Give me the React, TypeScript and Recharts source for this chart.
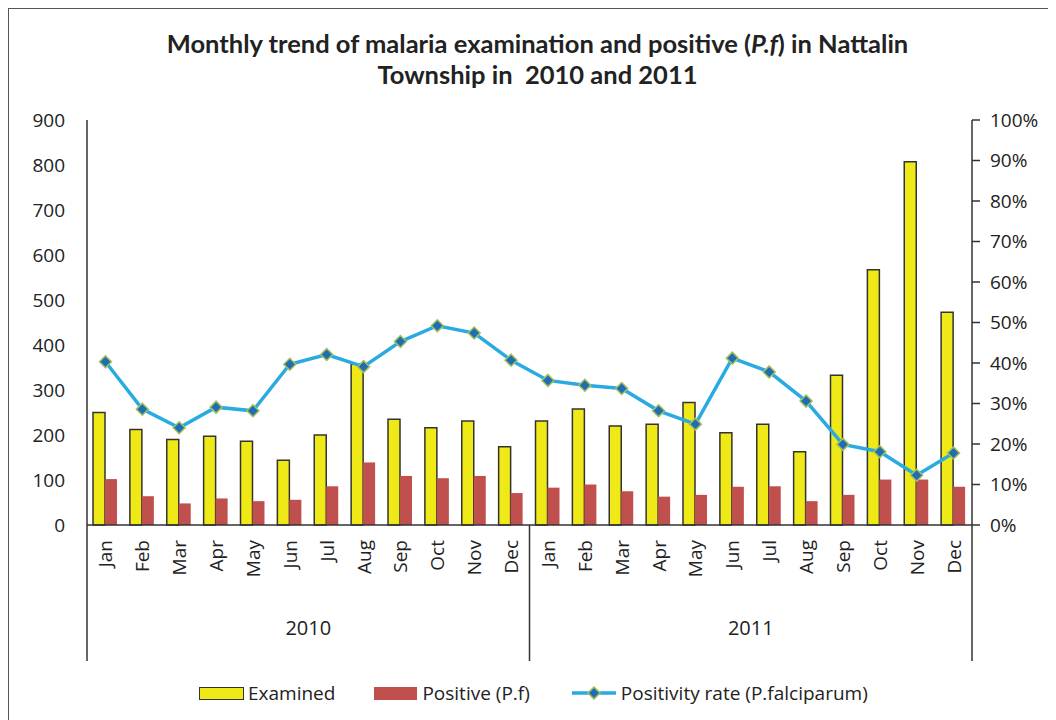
import React from 'react';
import { ComposedChart, Bar, Line, XAxis, YAxis } from 'recharts';

const months = ['Jan', 'Feb', 'Mar', 'Apr', 'May', 'Jun', 'Jul', 'Aug', 'Sep', 'Oct', 'Nov', 'Dec'];
const years = ['2010', '2011'];

const examined2010 = [250, 212, 190, 197, 186, 144, 200, 357, 235, 216, 231, 174];
const examined2011 = [231, 258, 220, 224, 272, 205, 224, 163, 333, 567, 807, 473];
const positive2010 = [102, 64, 48, 59, 53, 56, 86, 139, 109, 104, 109, 71];
const positive2011 = [83, 90, 75, 63, 67, 85, 86, 53, 67, 101, 101, 85];
// positivity rate in %
const rate2010 = [40.3, 28.6, 24.0, 29.1, 28.2, 39.7, 42.1, 39.1, 45.3, 49.2, 47.4, 40.7];
const rate2011 = [35.7, 34.5, 33.7, 28.2, 24.9, 41.2, 37.8, 30.6, 19.9, 18.1, 12.3, 17.8];

const leftTicks = [0, 100, 200, 300, 400, 500, 600, 700, 800, 900];
const rightTicks = [0, 0.1, 0.2, 0.3, 0.4, 0.5, 0.6, 0.7, 0.8, 0.9, 1];

const examinedByYear = [examined2010, examined2011];
const positiveByYear = [positive2010, positive2011];
const rateByYear = [rate2010, rate2011];

const data = years.flatMap((year, yi) =>
  months.map((month, mi) => ({
    key: `${month}-${year}`,
    month,
    year,
    examined: examinedByYear[yi][mi],
    positive: positiveByYear[yi][mi],
    rate: rateByYear[yi][mi] / 100,
  }))
);

const FONT = '"Open Sans", sans-serif';
const TEXT = '#222';
const AXIS = '#333';
const YELLOW = '#F0E918';
const RED = '#C0504D';
const BLUE_LINE = '#29ABE2';
const DIAMOND_FILL = '#1F6DB5';
const DIAMOND_STROKE = '#A3BF5A';

const W = 1047;
const H = 711;
const LEFT_W = 78;
const RIGHT_W = 84;
const PLOT_W = W - LEFT_W - RIGHT_W;
const BAND = PLOT_W / data.length;
const MONTH_AXIS_H = 86;
const YEAR_AXIS_H = 50;

const MonthTick = (props: any) => {
  const { x, y, payload } = props;
  const idx = payload.index;
  const d = data[idx];
  const sepLen = MONTH_AXIS_H + YEAR_AXIS_H;
  const seps: number[] = [];
  if (idx === 0) seps.push(x - BAND / 2);
  if (d && idx < data.length - 1 && data[idx + 1].year !== d.year) seps.push(x + BAND / 2);
  if (idx === data.length - 1) seps.push(x + BAND / 2);
  return (
    <g>
      {seps.map((sx, i) => (
        <line key={i} x1={sx} x2={sx} y1={y} y2={y + sepLen} stroke={AXIS} strokeWidth={1.5} />
      ))}
      <text
        x={x}
        y={y + 15}
        transform={`rotate(-90, ${x}, ${y + 15})`}
        textAnchor="end"
        dominantBaseline="central"
        fill={TEXT}
        fontSize={19}
        fontFamily={FONT}
      >
        {d ? d.month : ''}
      </text>
    </g>
  );
};

const Diamond = (props: any) => {
  const { cx, cy } = props;
  if (cx == null || cy == null) return null;
  const r = 6;
  return (
    <path
      d={`M${cx},${cy - r} L${cx + r},${cy} L${cx},${cy + r} L${cx - r},${cy} Z`}
      fill={DIAMOND_FILL}
      stroke={DIAMOND_STROKE}
      strokeWidth={1.5}
    />
  );
};

const LegendRow = () => (
  <div
    style={{
      position: 'absolute',
      top: 671,
      left: 190,
      display: 'flex',
      alignItems: 'center',
      fontFamily: FONT,
      fontSize: 19,
      color: TEXT,
      whiteSpace: 'nowrap',
    }}
  >
    <span style={{ display: 'inline-block', width: 43, height: 11, background: YELLOW, border: `1.5px solid ${AXIS}`, marginRight: 4 }} />
    <span style={{ marginRight: 39 }}>Examined</span>
    <span style={{ display: 'inline-block', width: 43, height: 13, background: RED, marginRight: 5 }} />
    <span style={{ marginRight: 42 }}>Positive (P.f)</span>
    <svg width={44} height={14} style={{ marginRight: 5 }}>
      <line x1={0} x2={44} y1={7} y2={7} stroke={BLUE_LINE} strokeWidth={3.5} />
      <path d="M22,1 L28,7 L22,13 L16,7 Z" fill={DIAMOND_FILL} stroke={DIAMOND_STROKE} strokeWidth={1.5} />
    </svg>
    <span>Positivity rate (P.falciparum)</span>
  </div>
);

export default function App() {
  return (
    <div
      style={{
        position: 'relative',
        width: W,
        height: H,
        borderLeft: '1px solid #555',
        borderTop: '1px solid #555',
        background: '#fff',
        overflow: 'hidden',
      }}
    >
      <div
        style={{
          position: 'absolute',
          top: 19,
          left: 0,
          width: W + 10,
          textAlign: 'center',
          fontFamily: 'Lato, sans-serif',
          fontWeight: 700,
          fontSize: 25.5,
          lineHeight: '31px',
          color: TEXT,
        }}
      >
        Monthly trend of malaria examination and positive (<i>P.f</i>) in Nattalin
        <br />
        Township in&nbsp; 2010 and 2011
      </div>
      <ComposedChart
        width={W}
        height={H}
        data={data}
        margin={{ top: 111, right: 0, bottom: H - 111 - 405 - MONTH_AXIS_H - YEAR_AXIS_H, left: 0 }}
        barGap={0}
        barSize={12}
      >
        <XAxis
          dataKey="key"
          xAxisId="month"
          height={MONTH_AXIS_H}
          interval={0}
          tickSize={0}
          tickMargin={0}
          tickLine={false}
          axisLine={{ stroke: AXIS, strokeWidth: 1.5 }}
          tick={<MonthTick />}
        />
        <XAxis
          dataKey="year"
          xAxisId="year"
          allowDuplicatedCategory={false}
          height={YEAR_AXIS_H}
          tickSize={0}
          tickMargin={10}
          tickLine={false}
          axisLine={false}
          tick={{ fill: TEXT, fontSize: 20, fontFamily: FONT }}
        />
        <YAxis
          yAxisId="left"
          width={LEFT_W}
          domain={[0, 900]}
          ticks={leftTicks}
          interval={0}
          tickSize={0}
          tickMargin={22}
          tickLine={false}
          axisLine={{ stroke: AXIS, strokeWidth: 1.5 }}
          tick={{ fill: TEXT, fontSize: 19, fontFamily: FONT }}
        />
        <YAxis
          yAxisId="right"
          orientation="right"
          width={RIGHT_W}
          domain={[0, 1]}
          ticks={rightTicks}
          interval={0}
          tickSize={8}
          tickMargin={10}
          tickLine={{ stroke: AXIS, strokeWidth: 1.5 }}
          axisLine={{ stroke: AXIS, strokeWidth: 1.5 }}
          tickFormatter={(v: number) => `${Math.round(v * 100)}%`}
          tick={{ fill: TEXT, fontSize: 19, fontFamily: FONT, textAnchor: 'start' }}
        />
        <Bar
          dataKey="examined"
          name="Examined"
          xAxisId="month"
          yAxisId="left"
          fill={YELLOW}
          stroke={AXIS}
          strokeWidth={1.5}
          isAnimationActive={false}
        />
        <Bar
          dataKey="positive"
          name="Positive (P.f)"
          xAxisId="month"
          yAxisId="left"
          fill={RED}
          isAnimationActive={false}
        />
        <Line
          dataKey="rate"
          name="Positivity rate (P.falciparum)"
          xAxisId="month"
          yAxisId="right"
          type="linear"
          stroke={BLUE_LINE}
          strokeWidth={3.5}
          dot={<Diamond />}
          activeDot={false}
          isAnimationActive={false}
        />
      </ComposedChart>
      <LegendRow />
    </div>
  );
}
